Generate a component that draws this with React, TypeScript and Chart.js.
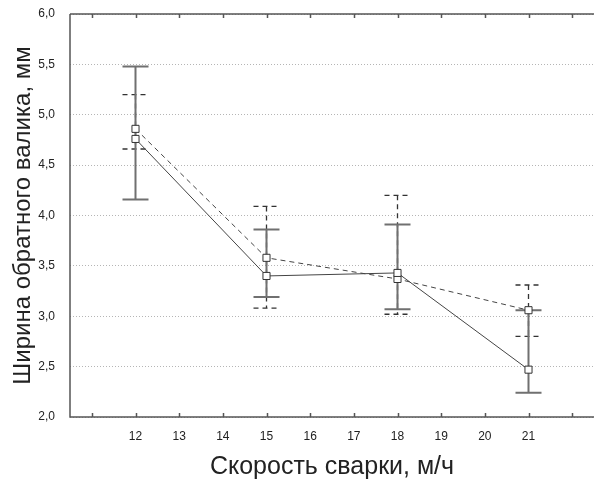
import React, { useEffect, useRef } from "react";
import { Chart, registerables } from "chart.js";

Chart.register(...registerables);

const speeds = [12, 15, 18, 21];
const solidMean = [4.76, 3.40, 3.43, 2.47];
const solidUpper = [5.48, 3.86, 3.91, 3.06];
const solidLower = [4.16, 3.19, 3.07, 2.24];
const dashedMean = [4.86, 3.58, 3.37, 3.06];
const dashedUpper = [5.20, 4.09, 4.20, 3.31];
const dashedLower = [4.66, 3.08, 3.02, 2.80];
const xTickValues = [11, 12, 13, 14, 15, 16, 17, 18, 19, 20, 21, 22];
const xLabeledTicks = [12, 13, 14, 15, 16, 17, 18, 19, 20, 21];
const yTitle = "Ширина обратного валика, мм";
const xTitle = "Скорость сварки, м/ч";

const FONT = "'Liberation Sans', Arial, sans-serif";

const errorBarPlugin = {
  id: "errorBars",
  beforeDatasetsDraw(chart: any) {
    const { ctx, scales } = chart;
    const xs = scales.x;
    const ys = scales.y;
    const cap = 13;
    const drawSet = (upper: number[], lower: number[], color: string, width: number, dash: number[]) => {
      ctx.save();
      ctx.strokeStyle = color;
      ctx.lineWidth = width;
      ctx.setLineDash(dash);
      speeds.forEach((s, i) => {
        const x = xs.getPixelForValue(s);
        const yu = ys.getPixelForValue(upper[i]);
        const yl = ys.getPixelForValue(lower[i]);
        ctx.beginPath();
        ctx.moveTo(x, yu);
        ctx.lineTo(x, yl);
        ctx.moveTo(x - cap, yu);
        ctx.lineTo(x + cap, yu);
        ctx.moveTo(x - cap, yl);
        ctx.lineTo(x + cap, yl);
        ctx.stroke();
      });
      ctx.restore();
    };
    drawSet(dashedUpper, dashedLower, "#333", 1.3, [5, 4]);
    drawSet(solidUpper, solidLower, "#707070", 2, []);
  },
  afterDraw(chart: any) {
    const { ctx, chartArea, scales } = chart;
    const xs = scales.x;
    ctx.save();
    ctx.strokeStyle = "#555";
    ctx.lineWidth = 1.5;
    ctx.beginPath();
    ctx.moveTo(chartArea.left, chartArea.top);
    ctx.lineTo(chartArea.right, chartArea.top);
    ctx.moveTo(chartArea.left, chartArea.top);
    ctx.lineTo(chartArea.left, chartArea.bottom);
    ctx.lineTo(chartArea.right, chartArea.bottom);
    ctx.stroke();
    ctx.beginPath();
    xs.ticks.forEach((t: any) => {
      const x = Math.round(xs.getPixelForValue(t.value)) + 0.5;
      ctx.moveTo(x, chartArea.bottom);
      ctx.lineTo(x, chartArea.bottom - 4);
      ctx.moveTo(x, chartArea.top);
      ctx.lineTo(x, chartArea.top + 4);
    });
    ctx.stroke();
    ctx.restore();
  },
};

export default function App() {
  const ref = useRef<HTMLCanvasElement | null>(null);
  useEffect(() => {
    if (!ref.current) return;
    const chart = new Chart(ref.current, {
      type: "line",
      data: {
        datasets: [
          {
            data: speeds.map((s, i) => ({ x: s, y: solidMean[i] })),
            borderColor: "#444",
            borderWidth: 1,
            pointStyle: "rect",
            pointRadius: 5,
            pointBackgroundColor: "#fff",
            pointBorderColor: "#333",
            pointBorderWidth: 1,
            tension: 0,
          },
          {
            data: speeds.map((s, i) => ({ x: s, y: dashedMean[i] })),
            borderColor: "#444",
            borderWidth: 1,
            borderDash: [5, 4],
            pointStyle: "rect",
            pointRadius: 5,
            pointBackgroundColor: "#fff",
            pointBorderColor: "#333",
            pointBorderWidth: 1,
            tension: 0,
          },
        ],
      },
      plugins: [errorBarPlugin],
      options: {
        animation: false,
        responsive: false,
        maintainAspectRatio: false,
        layout: { padding: { top: 14, right: 0, left: 0, bottom: 0 } },
        plugins: { legend: { display: false }, tooltip: { enabled: false } },
        scales: {
          x: {
            type: "linear",
            min: 10.5,
            max: 22.5,
            border: { display: false },
            grid: { display: false, drawTicks: false },
            afterBuildTicks: (s: any) => {
              s.ticks = xTickValues.map((v) => ({ value: v }));
            },
            ticks: {
              autoSkip: false,
              maxRotation: 0,
              padding: 12,
              color: "#222",
              font: { family: FONT, size: 12 },
              callback: (v: any) => (xLabeledTicks.includes(Number(v)) ? String(v) : ""),
            },
            title: {
              display: true,
              text: xTitle,
              color: "#222",
              font: { family: FONT, size: 25 },
              padding: { top: 0, bottom: 1 },
            },
            afterFit: (s: any) => {
              s.height = 66;
              s.paddingLeft = 0;
              s.paddingRight = 0;
            },
          },
          y: {
            type: "linear",
            min: 2,
            max: 6,
            border: { display: false, dash: [1, 2] },
            grid: { color: "#b5b5b5", drawTicks: false, lineWidth: 1 },
            ticks: {
              stepSize: 0.5,
              padding: 15,
              color: "#222",
              font: { family: FONT, size: 12 },
              callback: (v: any) => Number(v).toFixed(1).replace(".", ","),
            },
            title: {
              display: true,
              text: yTitle,
              color: "#222",
              font: { family: FONT, size: 24 },
              padding: { top: 9, bottom: 0 },
            },
            afterFit: (s: any) => {
              s.width = 70;
              s.paddingTop = 0;
              s.paddingBottom = 0;
            },
          },
        },
      },
    });
    return () => chart.destroy();
  }, []);
  return (
    <div style={{ position: "absolute", left: 0, top: 0, width: 597, height: 483, overflow: "hidden", background: "#fff" }}>
      <canvas ref={ref} width={600} height={483} style={{ width: 600, height: 483, display: "block" }} />
    </div>
  );
}
